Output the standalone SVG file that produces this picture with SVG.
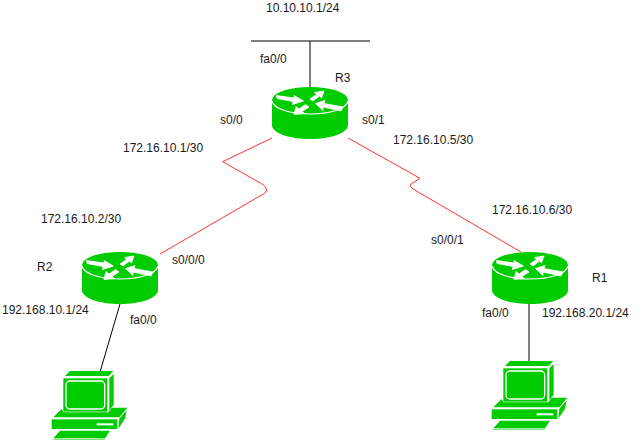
<svg xmlns="http://www.w3.org/2000/svg" width="641" height="442" viewBox="0 0 641 442">
<style>
text{font-family:"Liberation Sans",Arial,sans-serif;font-size:12px;fill:#1a1a1a}
.red{fill:none;stroke:#ff3333;stroke-width:1}
.blk{fill:none;stroke:#000;stroke-width:1}
.g{fill:#00cc00}
.w{fill:#fff;stroke:#fff;stroke-width:.8}
.ws{fill:none;stroke:#fff;stroke-width:1.2}
</style>
<defs>
<g id="router">
<path class="g" d="M1 13V38C1 46 18 52 39 52S77 46 77 38V13Z"/>
<ellipse class="g" cx="39" cy="13" rx="38" ry="13"/>
<path class="ws" d="M1 14C3 22 19 27 39 27S75 22 77 14"/>
<path class="w" d="M5.5 8.5L23.5 11L23 8.5L32.5 14L21.5 17.5L22 14.5L6 11.5Z"/>
<path class="w" d="M53 4L50.5 11L48.5 9L42 14L39 12L45.5 7.5L43.5 5.5Z"/>
<path class="w" d="M44.5 16.5L54 13.5L53 16.5L72 20L70 24L52 20L52 23.5Z"/>
<path class="w" d="M23 27.5L25 19.5L28 22L34.5 17.5L38 20L31 24.5L33.5 26.5Z"/>
</g>
<g id="pc" transform="scale(.3333)">
<path class="g" d="M105 48L120 33H250L236 48Z"/>
<path class="g" d="M238 55L251 42V135L238 150Z"/>
<rect class="g" x="100" y="55" width="132" height="100"/>
<rect x="108" y="63" width="116" height="84" rx="12" class="g" stroke="#fff" stroke-width="4"/>
<path class="g" d="M70 172L95 147L100 157H235L245 143H292L268 172Z"/>
<rect class="g" x="65" y="178" width="197" height="29"/>
<path class="g" d="M268 176L290 151L285 176L265 206Z"/>
<rect x="200" y="190" width="50" height="6" fill="#fff"/>
<path class="g" d="M90 212H240L225 235H70Z"/>
<path d="M70 238H225" fill="none" stroke="#80e680" stroke-width="4"/>
</g>
</defs>
<g id="connectors">
<path class="blk" d="M251 41H370"/>
<path class="blk" d="M310 41V87"/>
<path class="red" d="M272 138L222.7 161.7L262 184Q268 188 266 192Q264 194 260 196L160 254"/>
<path class="red" d="M348 138L420 178.3L411 184Q409 186 413 189L521 252"/>
<path class="blk" d="M120 304L100 372"/>
<path class="blk" d="M529 304V361"/>
</g>
<g id="R3"><use href="#router" x="271" y="87"/><text x="335" y="82">R3</text></g>
<g id="R2"><use href="#router" x="81" y="252"/><text x="37" y="271">R2</text></g>
<g id="R1"><use href="#router" x="491" y="252"/><text x="592" y="282">R1</text></g>
<g id="PC1"><use href="#pc" transform="translate(30 360)"/></g>
<g id="PC2"><use href="#pc" transform="translate(470 350)"/></g>
<g id="labels">
<text x="266" y="12">10.10.10.1/24</text>
<text x="260" y="63">fa0/0</text>
<text x="220" y="124">s0/0</text>
<text x="362" y="124">s0/1</text>
<text x="123" y="152">172.16.10.1/30</text>
<text x="393" y="144">172.16.10.5/30</text>
<text x="41" y="223">172.16.10.2/30</text>
<text x="492" y="214">172.16.10.6/30</text>
<text x="172" y="264">s0/0/0</text>
<text x="431" y="244">s0/0/1</text>
<text x="2" y="314">192.168.10.1/24</text>
<text x="130" y="324">fa0/0</text>
<text x="482" y="317">fa0/0</text>
<text x="542" y="317">192.168.20.1/24</text>
</g>
</svg>
